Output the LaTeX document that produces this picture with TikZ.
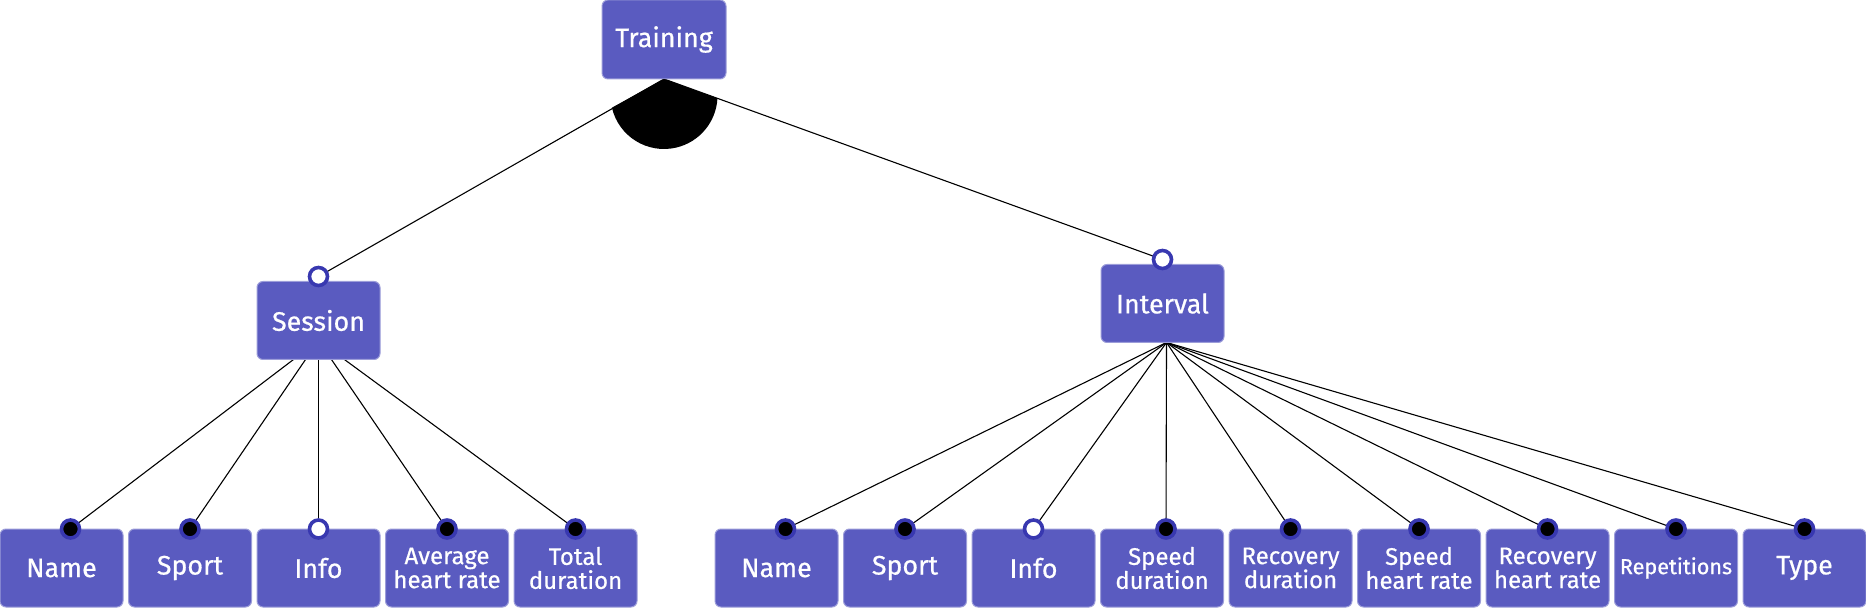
\documentclass[tikz,border=0pt]{standalone}
\usepackage{fontspec}
\setmainfont{Fira Sans}[FakeBold=0.6,AutoFakeBold=0.6]
\usetikzlibrary{positioning,backgrounds,calc}
\definecolor{featc}{HTML}{5A5BC0}
\definecolor{ringc}{HTML}{3838B0}

\begin{document}
\begin{tikzpicture}[
  x=0.5pt, y=0.5pt,
  node distance = 2.75pt,
  base/.style   = {rectangle, rounded corners=3pt, fill=featc, draw=featc!60,
                   line width=.5pt, text=white, align=center, inner sep=0pt, outer sep=0pt},
  feat/.style   = {base, minimum width=61.5pt, minimum height=39pt,
                   font=\fontsize{13.4}{15}\selectfont\bfseries},
  featT/.style  = {feat, minimum width=62pt, minimum height=39.5pt},
  featL/.style  = {feat, font=\fontsize{12}{12}\selectfont\bfseries},
  featS/.style  = {feat, font=\fontsize{10.8}{12}\selectfont\bfseries},
  mand/.style   = {circle, draw=ringc, line width=1.8pt, fill=black,
                   minimum size=9pt, inner sep=0pt},
  opt/.style    = {mand, fill=white},
  edge/.style   = {draw=black, line width=.55pt},
]
\useasboundingbox (0,0) rectangle (1866,-608);

% -- root and the two groups --
\node[featT] (training) at (664,-39.5) {Training};
\node[feat] (session) at (318.5,-320.5) {Session};
\node[feat] (interval) at (1162.5,-303.5) {Interval};

% -- session features --
\node[feat] (sname) at (61.5,-568) {Name};
\node[feat, right=of sname] (ssport) {Sport};
\node[feat, right=of ssport] (sinfo) {Info};
\node[featL, right=of sinfo] (savg) {Average\\heart rate};
\node[featL, right=of savg] (stotal) {Total\\duration};

% -- interval features --
\node[feat] (iname) at (776.5,-568) {Name};
\node[feat, right=of iname] (isport) {Sport};
\node[feat, right=of isport] (iinfo) {Info};
\node[featL, right=of iinfo] (ispeed) {Speed\\duration};
\node[featL, right=of ispeed] (irec) {Recovery\\duration};
\node[featL, right=of irec] (ispeedhr) {Speed\\heart rate};
\node[featL, right=of ispeedhr] (irechr) {Recovery\\heart rate};
\node[featS, right=of irechr] (irep) {Repetitions};
\node[feat, right=of irep] (itype) {Type};

% -- group arc under the root --
\coordinate (orc) at ($(training.south)+(0,-16.5)$);
\fill (training.south) -- ($(orc)+(193.2:53.5)$)
      arc[start angle=193.2, end angle=357, radius=26.75pt] -- cycle;

% -- markers: filled = mandatory, open = optional --
\node[opt] (session-c) at ([yshift=2.5pt]session.north) {};
\node[opt] (interval-c) at ([yshift=2.5pt]interval.north) {};
\node[mand] (sname-c) at ([xshift=4.5pt]sname.north) {};
\node[mand] (ssport-c) at (ssport.north) {};
\node[opt] (sinfo-c) at (sinfo.north) {};
\node[mand] (savg-c) at (savg.north) {};
\node[mand] (stotal-c) at (stotal.north) {};
\node[mand] (iname-c) at ([xshift=4.5pt]iname.north) {};
\node[mand] (isport-c) at (isport.north) {};
\node[opt] (iinfo-c) at (iinfo.north) {};
\node[mand] (ispeed-c) at ([xshift=2pt]ispeed.north) {};
\node[mand] (irec-c) at (irec.north) {};
\node[mand] (ispeedhr-c) at (ispeedhr.north) {};
\node[mand] (irechr-c) at (irechr.north) {};
\node[mand] (irep-c) at (irep.north) {};
\node[mand] (itype-c) at (itype.north) {};

\coordinate (sjoin) at ([yshift=9.5pt]session.south);
\coordinate (ijoin) at ([xshift=2pt]interval.south);

\begin{scope}[on background layer]
  \draw[edge] (training.south) -- (session-c.center);
  \draw[edge] (training.south) -- (interval-c.center);
  \draw[edge] (sjoin) -- (sname-c.center);
  \draw[edge] (sjoin) -- (ssport-c.center);
  \draw[edge] (sjoin) -- (sinfo-c.center);
  \draw[edge] (sjoin) -- (savg-c.center);
  \draw[edge] (sjoin) -- (stotal-c.center);
  \draw[edge] (ijoin) -- (iname-c.center);
  \draw[edge] (ijoin) -- (isport-c.center);
  \draw[edge] (ijoin) -- (iinfo-c.center);
  \draw[edge] (ijoin) -- (ispeed-c.center);
  \draw[edge] (ijoin) -- (irec-c.center);
  \draw[edge] (ijoin) -- (ispeedhr-c.center);
  \draw[edge] (ijoin) -- (irechr-c.center);
  \draw[edge] (ijoin) -- (irep-c.center);
  \draw[edge] (ijoin) -- (itype-c.center);
\end{scope}
\end{tikzpicture}
\end{document}
